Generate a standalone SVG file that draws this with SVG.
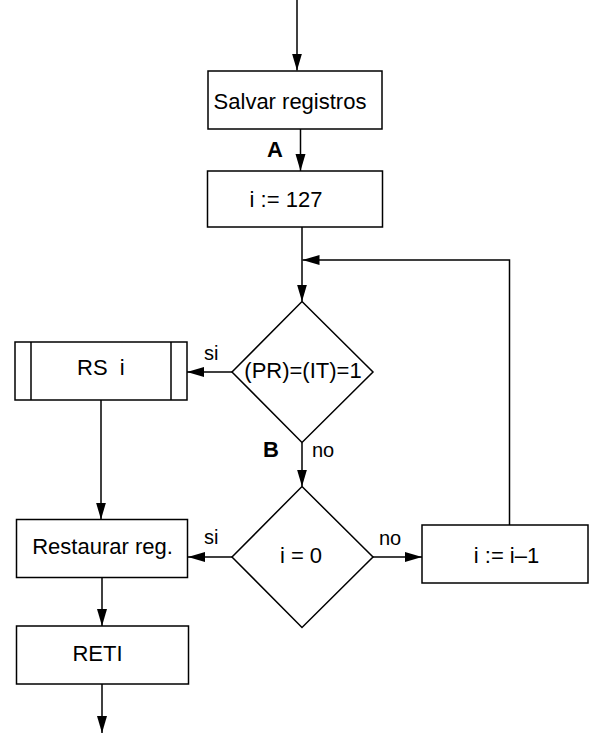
<svg xmlns="http://www.w3.org/2000/svg" width="589" height="733" viewBox="0 0 589 733">
  <style>
    .box { fill: #fff; stroke: #000; stroke-width: 1.5; }
    .wire { fill: none; stroke: #000; stroke-width: 1.5; }
    .t { font-family: "Liberation Sans", Arial, sans-serif; font-size: 22px; fill: #000; }
    .c { text-anchor: middle; }
    .lbl { font-family: "Liberation Sans", Arial, sans-serif; font-size: 20px; fill: #000; }
    .tag { font-family: "Liberation Sans", Arial, sans-serif; font-size: 22px; font-weight: bold; fill: #000; }
  </style>
  <defs>
    <marker id="arrow" markerUnits="userSpaceOnUse" markerWidth="18" markerHeight="12" refX="17" refY="5" orient="auto">
      <path d="M0 0 L17 5 L0 10 Z" fill="#000"/>
    </marker>
  </defs>

  <rect width="589" height="733" fill="#fff"/>

  <!-- connectors -->
  <g id="connectors" class="wire">
    <path d="M297 0 V70.5" marker-end="url(#arrow)"/>
    <path d="M300.5 129 V171" marker-end="url(#arrow)"/>
    <path d="M302 227 V301.5" marker-end="url(#arrow)"/>
    <path d="M509.5 525 V260 H302.5" marker-end="url(#arrow)"/>
    <path d="M232 372 H187" marker-end="url(#arrow)"/>
    <path d="M302 442.5 V486.5" marker-end="url(#arrow)"/>
    <path d="M232 557 H188" marker-end="url(#arrow)"/>
    <path d="M373 557 H422" marker-end="url(#arrow)"/>
    <path d="M101 400 V519.5" marker-end="url(#arrow)"/>
    <path d="M102 577.5 V626" marker-end="url(#arrow)"/>
    <path d="M102 684 V733" marker-end="url(#arrow)"/>
  </g>

  <!-- connector labels -->
  <g id="labels">
    <text class="tag" x="267" y="157">A</text>
    <text class="tag" x="263" y="457">B</text>
    <text class="lbl" x="204" y="360">si</text>
    <text class="lbl" x="312" y="457">no</text>
    <text class="lbl" x="204" y="544">si</text>
    <text class="lbl" x="379" y="545">no</text>
  </g>

  <g id="save">
    <rect class="box" x="208" y="71" width="174" height="58"/>
    <text class="t c" x="290" y="108.5">Salvar registros</text>
  </g>

  <g id="init">
    <rect class="box" x="207.5" y="171" width="175" height="56"/>
    <text class="t c" x="286" y="207">i := 127</text>
  </g>

  <g id="check-pending">
    <polygon class="box" points="302,301.5 373,372 302,442.5 232,372"/>
    <text class="t c" x="303" y="378">(PR)=(IT)=1</text>
  </g>

  <g id="service-routine">
    <rect class="box" x="15" y="342" width="172" height="58"/>
    <line class="wire" x1="31" y1="342" x2="31" y2="400"/>
    <line class="wire" x1="171" y1="342" x2="171" y2="400"/>
    <text class="t" x="77" y="375" xml:space="preserve">RS  i</text>
  </g>

  <g id="check-zero">
    <polygon class="box" points="302,486.5 373,557 302,627.5 232,557"/>
    <text class="t c" x="301" y="563">i = 0</text>
  </g>

  <g id="decrement">
    <rect class="box" x="422" y="525" width="166" height="58"/>
    <text class="t c" x="506.5" y="563">i := i–1</text>
  </g>

  <g id="restore">
    <rect class="box" x="16.5" y="519.5" width="171" height="58"/>
    <text class="t c" x="102.5" y="554">Restaurar reg.</text>
  </g>

  <g id="reti">
    <rect class="box" x="16.5" y="626" width="172" height="58"/>
    <text class="t c" x="97.5" y="661">RETI</text>
  </g>
</svg>
